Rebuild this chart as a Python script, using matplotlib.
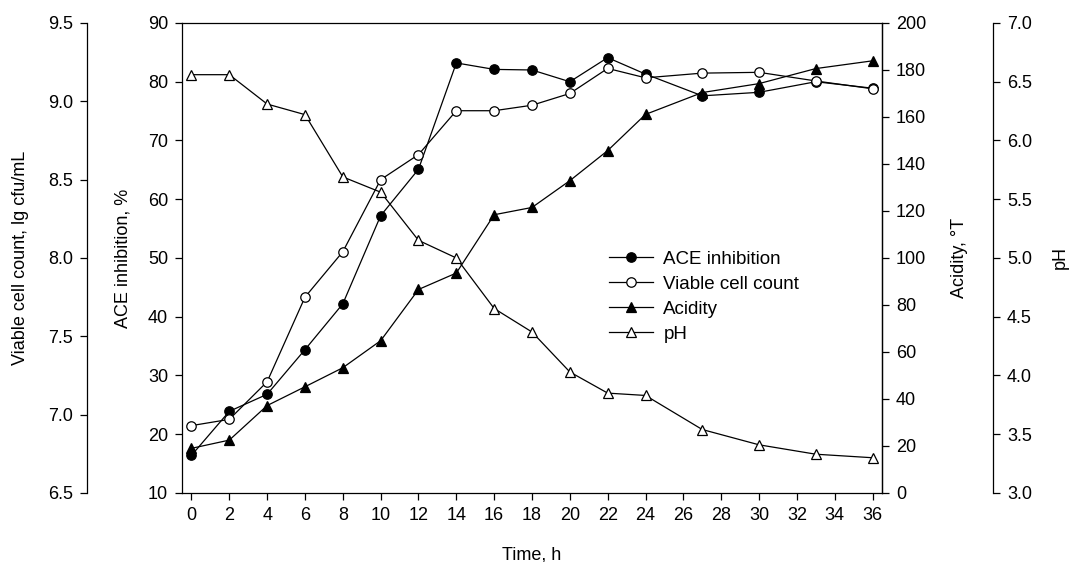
import matplotlib
matplotlib.use("Agg")
import matplotlib.pyplot as plt
from matplotlib.ticker import FormatStrFormatter
import numpy as np

plt.rcParams['font.family'] = ['Liberation Sans', 'DejaVu Sans']
plt.rcParams['font.size'] = 13

# fermentation time, h
time_h = [0, 2, 4, 6, 8, 10, 12, 14, 16, 18, 20, 22, 24, 27, 30, 33, 36]

# ACE inhibition, %
ace = [16.4, 23.9, 26.8, 34.4, 42.2, 57.2, 65.1, 83.2, 82.1, 82.0, 80.0,
       84.1, 81.3, 77.6, 78.2, 80.0, 78.9]
# viable cell count, lg cfu/mL
viable = [6.93, 6.97, 7.21, 7.75, 8.04, 8.50, 8.66, 8.94, 8.94, 8.975, 9.05,
          9.21, 9.15, 9.18, 9.185, 9.13, 9.08]
# acidity, degrees T
acidity = [19.0, 22.5, 37.2, 45.2, 53.3, 64.8, 86.6, 93.6, 118.4, 121.5, 132.9,
           145.7, 161.1, 170.4, 174.2, 180.6, 183.9]
# pH
ph = [6.56, 6.56, 6.31, 6.22, 5.69, 5.56, 5.15, 5.00, 4.57, 4.37, 4.03,
      3.85, 3.83, 3.54, 3.41, 3.33, 3.30]

xticks = np.arange(0, 37, 2)

fig = plt.figure(figsize=(10.7, 5.62), dpi=100)
ax = fig.add_axes([0.1701, 0.1228, 0.6542, 0.8363])
ax_v = ax.twinx()
ax_a = ax.twinx()
ax_p = ax.twinx()

lw = 0.9
ms = 6.8
tick_kw = dict(direction='out', length=5, width=0.9, pad=5, labelsize=13)

# ACE inhibition on main axis
l1, = ax.plot(time_h, ace, '-o', color='black', lw=lw, ms=ms,
              mfc='black', mec='black', mew=0.9, label='ACE inhibition')
ax.set_xlim(-0.5, 36.5)
ax.set_ylim(10, 90)
ax.set_xticks(xticks)
ax.set_yticks(np.arange(10, 91, 10))
ax.set_xlabel('Time, h')
ax.set_ylabel('ACE inhibition, %')
ax.tick_params(axis='both', **tick_kw)
ax.tick_params(axis='y', right=False)
ax.xaxis.set_label_coords(0.5, -0.132)
ax.xaxis.label.set_va('center')
ax.yaxis.set_label_coords(-0.0843, 0.5)
ax.yaxis.label.set_va('center')

# viable cell count, offset left axis
l2, = ax_v.plot(time_h, viable, '-o', color='black', lw=lw, ms=ms,
                mfc='white', mec='black', mew=0.9, label='Viable cell count')
ax_v.set_ylim(6.5, 9.5)
ax_v.set_yticks(np.arange(6.5, 9.51, 0.5))
ax_v.yaxis.set_major_formatter(FormatStrFormatter('%.1f'))
ax_v.yaxis.set_ticks_position('left')
ax_v.yaxis.set_label_position('left')
ax_v.spines['left'].set_position(('axes', -0.1357))
ax_v.spines['left'].set_visible(True)
for s in ['right', 'top', 'bottom']:
    ax_v.spines[s].set_visible(False)
ax_v.tick_params(axis='y', **tick_kw)
ax_v.set_ylabel('Viable cell count, lg cfu/mL')
ax_v.yaxis.set_label_coords(-0.2314, 0.5)
ax_v.yaxis.label.set_va('center')

# acidity, right axis
l3, = ax_a.plot(time_h, acidity, '-^', color='black', lw=lw, ms=ms + 0.6,
                mfc='black', mec='black', mew=0.9, label='Acidity')
ax_a.set_ylim(0, 200)
ax_a.set_yticks(np.arange(0, 201, 20))
for s in ['left', 'top', 'bottom']:
    ax_a.spines[s].set_visible(False)
ax_a.tick_params(axis='y', **tick_kw)
ax_a.set_ylabel('Acidity, °T')
ax_a.yaxis.set_label_coords(1.1114, 0.5)
ax_a.yaxis.label.set_va('center')

# pH, offset right axis
l4, = ax_p.plot(time_h, ph, '-^', color='black', lw=lw, ms=ms + 0.6,
                mfc='white', mec='black', mew=0.9, label='pH')
ax_p.set_ylim(3.0, 7.0)
ax_p.set_yticks(np.arange(3.0, 7.01, 0.5))
ax_p.yaxis.set_major_formatter(FormatStrFormatter('%.1f'))
ax_p.spines['right'].set_position(('axes', 1.1586))
for s in ['left', 'top', 'bottom']:
    ax_p.spines[s].set_visible(False)
ax_p.tick_params(axis='y', **tick_kw)
ax_p.set_ylabel('pH')
ax_p.yaxis.set_label_coords(1.2543, 0.5)
ax_p.yaxis.label.set_va('center')

for a in [ax, ax_v, ax_a, ax_p]:
    for s in a.spines.values():
        s.set_linewidth(0.9)

ax_p.legend(handles=[l1, l2, l3, l4], loc='upper left',
            bbox_to_anchor=(0.61, 0.515), bbox_transform=ax.transAxes,
            frameon=False, fontsize=13.5, handlelength=2.35,
            handletextpad=0.55, labelspacing=0.42, borderpad=0,
            borderaxespad=0)

fig.savefig('out.png', dpi=100)
